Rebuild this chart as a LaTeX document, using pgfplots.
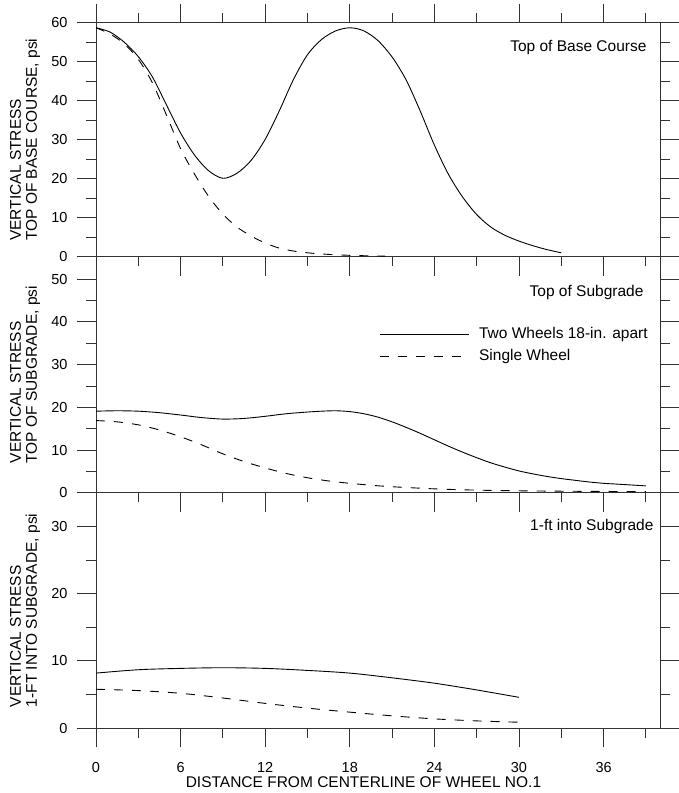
\documentclass[border=0pt]{standalone}
\usepackage{fontspec}
\setmainfont{Liberation Sans}
\usepackage{pgfplots}
\pgfplotsset{compat=1.18}

\newcommand\lab{\fontsize{15.5}{16}\selectfont}
\newcommand\tck{\fontsize{14.5}{16}\selectfont}

\pgfplotsset{
  panel/.style={
    scale only axis, width=564pt,
    xmin=0, xmax=40,
    xtick={0,6,...,36}, minor xtick={3,9,...,39},
    tick align=outside,
    major tick length=19pt, minor tick length=9.5pt,
    axis line style={black!80, line width=1pt},
    every tick/.style={black!80, line width=1pt},
    yticklabel pos=left,
    tick label style={font=\tck},
    xticklabel style={yshift=-12pt},
    yticklabel style={xshift=-6pt},
    /pgf/number format/assume math mode=true,
    clip=false,
    every axis y label/.style={at={([xshift=-71pt]rel axis cs:0,0.5)}, rotate=90, anchor=center, align=left, font=\lab},
  },
  two/.style={black, line width=0.9pt, smooth},
  one/.style={black, line width=0.9pt, smooth, dash pattern=on 9pt off 9pt},
}

\begin{document}
\begin{tikzpicture}

% bottom panel: 1 ft into subgrade
\begin{axis}[panel,
  at={(96pt,64.7pt)}, anchor=south west, height=235.6pt,
  ymin=0, ymax=35, ytick={0,10,20,30}, minor ytick={5,15,25},
  xtick pos=left,
  ylabel={VERTICAL STRESS\\1-FT INTO SUBGRADE, psi},
  xlabel={DISTANCE FROM CENTERLINE OF WHEEL NO.1},
  xlabel style={at={(rel axis cs:0.5,0)}, anchor=base, xshift=-14.5pt, yshift=-59.4pt, font=\lab},
]
\addplot[two] coordinates {(0,8.2) (3,8.7) (6,8.9) (9,9.0) (12,8.9) (15,8.6) (18,8.2) (21,7.5) (24,6.7) (27,5.7) (30,4.6)};
\addplot[one] coordinates {(0,5.8) (3,5.6) (6,5.2) (9,4.5) (12,3.7) (15,3.0) (18,2.4) (21,1.85) (24,1.4) (27,1.1) (30,0.9)};
\node[anchor=base east, font=\lab] at ([xshift=-3pt]rel axis cs:1,0.8387) {1-ft into Subgrade};
\end{axis}

% middle panel: top of subgrade
\begin{axis}[panel,
  at={(96pt,300.3pt)}, anchor=south west, height=236pt,
  ymin=0, ymax=55.3, ytick={0,10,...,50}, minor ytick={5,15,...,45},
  xtick pos=left, xticklabels={},
  ylabel={VERTICAL STRESS\\TOP OF SUBGRADE, psi},
  legend style={draw=none, fill=none, at={(rel axis cs:0.5018,0.7008)}, anchor=north west,
    inner sep=0pt, row sep=8pt, font=\lab,
    nodes={inner sep=0pt, text height=11pt, text depth=3pt}},
  legend cell align=left,
  legend image code/.code={\draw[#1] (0pt,0pt) -- (89pt,0pt);},
  legend columns=1,
]
\addplot[two] coordinates {(0,19.1) (1.5,19.2) (3,19.1) (4.5,18.75) (6,18.2) (7.5,17.6) (9,17.25) (10.5,17.4) (12,17.9) (13.5,18.5) (15,18.9) (16,19.1) (17,19.2) (18,19.0) (19,18.5) (20,17.7) (21,16.6) (22,15.3) (23,13.9) (24,12.4) (25,10.9) (26,9.5) (27,8.2) (28,7.0) (29,6.0) (30,5.1) (31,4.4) (32,3.8) (33,3.3) (34,2.9) (35,2.5) (36,2.2) (37,2.0) (38,1.8) (39,1.6)};
\addlegendentry{\hspace{10pt}Two Wheels 18-in. apart}
\addplot[one] coordinates {(0,16.9) (1.5,16.6) (3,15.9) (4.5,14.7) (6,13.1) (7.5,11.2) (9,9.1) (10.5,7.3) (12,5.8) (13.5,4.5) (15,3.5) (16.5,2.75) (18,2.2) (19.5,1.75) (21,1.4) (24,0.9) (27,0.6) (30,0.45) (33,0.35) (36,0.3) (39,0.25)};
\addlegendentry{\hspace{10pt}Single Wheel}
\node[anchor=base east, font=\lab] at ([xshift=-13pt]rel axis cs:1,0.8305) {Top of Subgrade};
\end{axis}

% top panel: top of base course
\begin{axis}[panel,
  at={(96pt,536.3pt)}, anchor=south west, height=234pt,
  ymin=0, ymax=60, ytick={0,10,...,60}, minor ytick={5,15,...,55},
  xtick pos=both, xticklabels={},
  ylabel={VERTICAL STRESS\\TOP OF BASE COURSE, psi},
]
\addplot[two] coordinates {(0,58.7) (1,57.6) (2,55.0) (3,51.3) (4,46.1) (5,38.9) (6,31.7) (7,26.0) (8,22.0) (9,20.1) (10,21.4) (11,24.7) (12,30.1) (13,37.4) (14,45.4) (15,51.8) (16,55.7) (17,57.9) (18,58.7) (19,57.9) (20,55.4) (21,51.2) (22,45.3) (23,37.3) (24,28.6) (25,21.1) (26,15.3) (27,10.8) (28,7.6) (29,5.5) (30,4.0) (31,2.8) (32,1.8) (33,1.0)};
\addplot[one] coordinates {(0,58.7) (1,57.1) (2,54.6) (3,50.6) (4,44.6) (5,36.3) (6,27.7) (7,21.1) (8,15.4) (9,10.9) (10,7.6) (11,5.3) (12,3.5) (13,2.2) (14,1.45) (15,1.0) (16,0.7) (17,0.5) (18,0.35) (19,0.25) (20.5,0.15)};
\node[anchor=base east, font=\lab] at ([xshift=-10pt]rel axis cs:1,0.876) {Top of Base Course};
\end{axis}

\pgfresetboundingbox
\path (0pt,0pt) rectangle (678pt,793pt);
\end{tikzpicture}
\end{document}
